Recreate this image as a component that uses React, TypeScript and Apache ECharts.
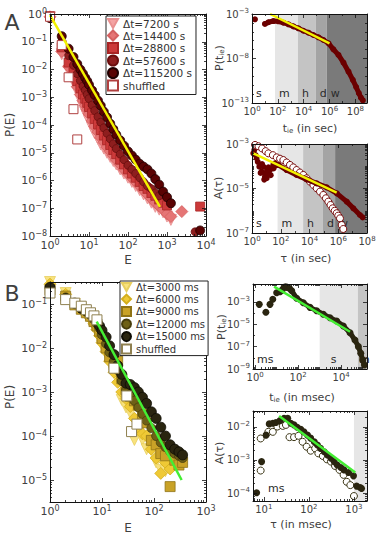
import { useEffect, useRef } from "react";
import * as echarts from "echarts";

const FONT = "DejaVu Sans";
const TXT = "#404040";
const L10 = Math.log10;

// ===== Panel A main: P(E) vs E (E real, P as log10) =====
const aE = [1, 2, 3, 4, 5, 6, 7, 8, 9, 10, 12, 14, 17, 20, 24, 29, 35, 42, 50, 63, 79, 100, 126, 158, 200, 251, 316, 398, 501, 631, 794, 1000, 1259];
const aE7200 = aE;
const aLogP7200 = [-0.12, -1.45, -2.05, -2.45, -2.8, -3.1, -3.35, -3.55, -3.7, -3.85, -4.1, -4.3, -4.5, -4.7, -4.85, -5.0, -5.15, -5.3, -5.42, -5.6, -5.75, -5.9, -6.05, -6.2, -6.35, -6.5, -6.65, -6.8, -6.95, -7.05, -7.15, -7.3, -7.42];
const aE14400 = [...aE, 2400];
const aLogP14400 = [-0.1, -1.35, -1.9, -2.3, -2.62, -2.9, -3.12, -3.3, -3.45, -3.6, -3.85, -4.05, -4.25, -4.45, -4.62, -4.8, -4.95, -5.1, -5.25, -5.42, -5.6, -5.75, -5.9, -6.05, -6.2, -6.35, -6.5, -6.65, -6.8, -6.92, -7.05, -7.2, -7.3, -7.12];
const aE28800 = [...aE.slice(0, 32), 7080];
const aLogP28800 = [-0.08, -1.2, -1.75, -2.1, -2.42, -2.68, -2.9, -3.05, -3.2, -3.35, -3.58, -3.78, -3.98, -4.18, -4.38, -4.55, -4.72, -4.9, -5.05, -5.25, -5.42, -5.6, -5.75, -5.9, -6.05, -6.2, -6.3, -6.45, -6.55, -6.68, -6.8, -6.9, -6.94];
const aE57600 = [...aE.slice(0, 30), 5250];
const aLogP57600 = [-0.1, -1.0, -1.5, -1.85, -2.15, -2.4, -2.6, -2.75, -2.9, -3.05, -3.28, -3.48, -3.7, -3.9, -4.1, -4.3, -4.5, -4.68, -4.85, -5.05, -5.25, -5.45, -5.6, -5.75, -5.9, -6.05, -6.2, -6.3, -6.45, -6.55, -7.85];
const aE115200 = [...aE, 7080];
const aLogP115200 = [-0.15, -0.8, -1.25, -1.55, -1.8, -2.0, -2.15, -2.3, -2.42, -2.55, -2.75, -2.92, -3.12, -3.3, -3.52, -3.72, -3.95, -4.15, -4.35, -4.55, -4.75, -4.95, -5.1, -5.25, -5.4, -5.5, -5.6, -5.75, -5.95, -6.15, -6.4, -6.6, -6.82, -7.8];
const aEShuf = [1, 2, 3, 4, 5];
const aLogPShuf = [-0.1, -1.12, -2.28, -3.43, -4.52];
const aFitE = [1, 660];
const aFitLogP = [-0.04, -6.95];

// ===== Panel A top right: P(t_ie), log10 t (s) and log10 P =====
const aTieLogT = [0.23, 1.0, 1.27, 1.65, 2.04, 2.43, 2.82, 3.2, 3.59, 3.98, 4.37, 4.75, 5.14, 5.53, 5.92, 6.3, 6.69, 7.08, 7.47, 7.8, 8.06, 8.27, 8.43, 8.58];
const aTieLogP = [-3.6, -4.12, -3.93, -3.79, -3.82, -3.98, -4.16, -4.39, -4.61, -4.88, -5.1, -5.36, -5.62, -5.92, -6.29, -6.97, -7.6, -8.47, -9.48, -10.4, -11.2, -11.9, -12.4, -12.7];
const aTieFitLogT = [1.4, 6.0];
const aTieFitLogP = [-3.0, -6.3];

// ===== Panel A bottom right: A(tau) =====
const aBlobLogT = [0.09, 0.16, 0.25, 0.32, 0.4, 0.51, 0.6, 0.67, 0.7, 0.79, 0.85, 0.9, 0.95, 1.02, 1.05, 1.14, 1.14, 1.25, 1.3, 1.37, 1.48, 1.5, 1.6, 1.7];
const aBlobLogA = [-3.42, -3.27, -3.5, -3.64, -3.8, -4.02, -4.3, -4.24, -3.9, -4.02, -4.6, -4.47, -4.3, -4.54, -4.15, -4.32, -4.05, -4.17, -4.4, -4.09, -3.94, -4.1, -3.87, -3.95];
const aAcfLogT = [1.83, 2.41, 3.1, 3.8, 4.5, 5.2, 5.9, 6.59, 7.05, 7.51, 7.7];
const aAcfLogA = [-3.94, -4.17, -4.39, -4.59, -4.77, -4.95, -5.22, -5.59, -5.89, -6.19, -6.3];
const aShufLogT = [0.21, 0.45, 0.7, 0.95, 1.14, 1.45, 1.72, 1.95, 2.18, 2.41, 2.64, 2.87, 3.1, 3.33, 3.57, 3.8, 4.03, 4.27, 4.5, 4.73, 4.96, 5.14, 5.31, 5.46, 5.61, 5.75, 5.89, 6.0, 6.12, 6.24, 6.35];
const aShufLogA = [-3.04, -3.1, -3.2, -3.32, -3.42, -3.5, -3.6, -3.66, -3.72, -3.83, -3.94, -4.05, -4.17, -4.28, -4.39, -4.54, -4.69, -4.84, -4.99, -5.14, -5.29, -5.44, -5.59, -5.74, -5.89, -6.0, -6.11, -6.22, -6.34, -6.64, -6.82];
const aAcfFitLogT = [0.09, 5.89];
const aAcfFitLogA = [-3.42, -5.19];
const aBandSec = [60, 3600, 86400, 604800];
const aBandNames = ["s", "m", "h", "d", "w"];

// ===== Panel B main =====
const bE = [1, 2, 3, 4, 5, 6, 7, 8, 9, 10, 12, 14, 17, 20, 24, 29, 35, 42, 50, 60, 72, 89, 110, 135, 166, 204, 251, 302, 355];
const bE3000 = bE.slice(0, 25);
const bLogP3000 = [-0.5, -0.75, -1.0, -1.15, -1.25, -1.38, -1.5, -1.65, -1.8, -1.95, -2.05, -2.3, -2.55, -2.73, -3.18, -3.35, -3.48, -4.09, -3.9, -4.09, -4.3, -4.32, -4.6, -4.77, -4.8];
const bE6000 = bE.slice(0, 26);
const bLogP6000 = [-0.55, -0.78, -1.0, -1.12, -1.22, -1.32, -1.45, -1.58, -1.72, -1.88, -2.08, -2.3, -2.55, -2.78, -3.0, -3.15, -3.33, -3.6, -3.8, -3.95, -4.0, -4.3, -4.5, -4.85, -4.6, -4.75];
const bE9000 = bE;
const bLogP9000 = [-0.68, -0.82, -1.02, -1.12, -1.2, -1.28, -1.4, -1.5, -1.62, -1.78, -2.0, -2.2, -2.4, -2.3, -2.7, -2.95, -3.1, -3.2, -3.3, -3.5, -3.7, -4.1, -4.2, -4.4, -4.45, -5.15, -4.55, -4.66, -4.6];
const bE12000 = bE;
const bLogP12000 = [-0.65, -0.85, -1.0, -1.1, -1.18, -1.25, -1.35, -1.45, -1.55, -1.7, -1.9, -2.1, -2.3, -2.5, -2.75, -2.95, -3.05, -3.2, -3.35, -3.5, -3.65, -3.82, -4.0, -4.15, -4.25, -4.35, -4.4, -4.45, -4.5];
const bE15000 = bE;
const bLogP15000 = [-0.62, -0.88, -0.98, -1.1, -1.15, -1.22, -1.3, -1.38, -1.5, -1.6, -1.75, -1.95, -2.15, -2.4, -2.6, -2.8, -2.83, -2.9, -3.0, -3.12, -3.26, -3.45, -3.6, -3.8, -4.0, -4.2, -4.3, -4.36, -4.43];
const bEShuf = [1, 2, 3, 4, 5, 6, 7, 8, 17, 30, 37, 47];
const bLogPShuf = [-0.75, -0.9, -0.98, -1.05, -1.13, -1.2, -1.27, -1.36, -2.46, -3.09, -3.9, -3.73];
const bFitE = [7.9, 340];
const bFitLogP = [-1.4, -5.0];

// ===== Panel B top right: P(t_ie) (ms) =====
const bTieLogT = [0.19, 0.5, 0.69, 0.82, 1.0, 1.16, 1.25, 1.34, 1.42, 1.5, 1.6, 1.7, 1.93, 2.24, 2.55, 2.86, 3.17, 3.48, 3.79, 4.1, 4.41, 4.64, 4.8, 4.91, 5.0, 5.08];
const bTieLogP = [-3.22, -3.93, -3.22, -2.77, -2.18, -2.09, -1.95, -1.7, -1.65, -1.7, -1.8, -2.0, -2.68, -3.07, -3.49, -3.79, -4.11, -4.41, -4.71, -5.16, -5.76, -6.41, -7.0, -7.6, -8.2, -8.65];
const bTieFitLogT = [0.88, 4.41];
const bTieFitLogP = [-1.64, -5.67];
const bBandMs = [1000, 60000];
const bBandNames = ["ms", "s", "m"];

// ===== Panel B bottom right: A(tau) (ms) =====
const bAcfLogT = [0.84, 0.95, 1.05, 1.12, 1.2, 1.27, 1.36, 1.45, 1.53, 1.6, 1.67, 1.74, 1.82, 1.89, 1.97, 2.04, 2.12, 2.19, 2.26, 2.34, 2.41, 2.49, 2.56, 2.63, 2.71, 2.78, 2.88, 2.99, 3.06, 3.14, 3.17];
const bAcfLogA = [-3.99, -3.05, -2.25, -1.91, -1.89, -1.87, -1.81, -1.74, -1.74, -1.89, -1.94, -2.01, -2.07, -2.15, -2.25, -2.34, -2.45, -2.55, -2.65, -2.75, -2.85, -2.95, -3.05, -3.15, -3.23, -3.3, -3.38, -3.48, -3.79, -3.83, -3.86];
const bShufLogT = [0.93, 0.93, 1.1, 1.2, 1.3, 1.42, 1.49, 1.57, 1.67, 1.77, 1.86, 1.95, 2.04, 2.14, 2.21, 2.31, 2.4, 2.49, 2.58, 2.68, 2.77, 2.84, 2.92, 3.0];
const bShufLogA = [-3.32, -2.35, -2.15, -2.15, -1.99, -1.97, -1.94, -2.31, -2.31, -2.27, -2.45, -2.6, -2.72, -2.65, -2.8, -2.88, -2.98, -3.05, -3.18, -3.3, -3.45, -3.66, -3.76, -4.09];
const bAcfFitLogT = [1.34, 3.03];
const bAcfFitLogA = [-1.67, -3.38];
const bAcfBandMs = [1000];
const bAcfBandNames = ["ms", ""];

// ===== Tick labels (log10 exponents) =====
const panels = [
  { l: 50, t: 14, w: 156, h: 222, x: [0, 4], y: [-8, 0], xt: [0, 1, 2, 3, 4], yt: [0, -1, -2, -3, -4, -5, -6, -7, -8], xm: "k", ym: "k", fs: 11 },
  { l: 252, t: 14, w: 115, h: 89, x: [0, 8.9], y: [-13, -3], xt: [0, 2, 4, 6, 8], yt: [-13, -8, -3], xm: "d", ym: "d", fs: 10 },
  { l: 252, t: 144, w: 115, h: 89, x: [0, 8], y: [-7, -3], xt: [0, 2, 4, 6, 8], yt: [-7, -5, -3], xm: "d", ym: "k", fs: 10 },
  { l: 50, t: 282, w: 156, h: 220, x: [0, 3], y: [-5.5, -0.5], xt: [0, 1, 2, 3], yt: [-1, -2, -3, -4, -5], xm: "k", ym: "k", fs: 11 },
  { l: 253, t: 284, w: 114, h: 85, x: [-0.1, 5.2], y: [-9, -1.4], xt: [0, 2, 4], yt: [-9, -7, -5, -3], xm: "k", ym: "d", fs: 10 },
  { l: 253, t: 411, w: 114, h: 90, x: [0.76, 3.29], y: [-4.24, -1.52], xt: [1, 2, 3], yt: [-4, -3, -2], xm: "k", ym: "k", fs: 10 },
];

const TRI = "path://M0,0L10,0L5,9Z";
const pt = (xs: number[], ys: number[]) => xs.map((x, i) => [L10(x), ys[i]]);
const pl = (xs: number[], ys: number[]) => xs.map((x, i) => [x, ys[i]]);

function minors(r: number[], majors: number[], kind: string) {
  const out: number[] = [];
  for (let n = Math.floor(r[0]) - 1; n <= Math.ceil(r[1]); n++) {
    if (n > r[0] + 1e-6 && n < r[1] - 1e-6 && !majors.includes(n)) out.push(n);
    if (kind === "k") {
      for (let k = 2; k <= 9; k++) {
        const v = n + L10(k);
        if (v > r[0] + 1e-6 && v < r[1] - 1e-6) out.push(v);
      }
    }
  }
  return out;
}

function fmt(v: number) {
  const n = Math.round(v);
  return `{b|10}{s|${n < 0 ? "\u2212" + -n : n}}`;
}
function rich(fs: number) {
  return {
    b: { fontSize: fs, fontFamily: FONT, color: TXT },
    s: { fontSize: fs - 3, fontFamily: FONT, color: TXT, padding: [0, 0, Math.round(fs * 0.55), 0] },
  };
}

function buildAxes() {
  const xAxis: any[] = [];
  const yAxis: any[] = [];
  const line = { show: true, onZero: false, lineStyle: { color: "#111", width: 1 } };
  const noLine = { show: false, onZero: false };
  const tick = (vals: number[], len: number) => ({ show: true, inside: true, length: len, customValues: vals, lineStyle: { color: "#111", width: 0.8 } });
  panels.forEach((p, gi) => {
    const base = { gridIndex: gi, type: "value", splitLine: { show: false }, z: 10, silent: true };
    const xm = minors(p.x, p.xt, p.xm);
    const ym = minors(p.y, p.yt, p.ym);
    const xb = { ...base, min: p.x[0], max: p.x[1] };
    const yb = { ...base, min: p.y[0], max: p.y[1] };
    xAxis.push(
      { ...xb, position: "bottom", axisLine: line, axisTick: tick(p.xt, 4), axisLabel: { show: true, customValues: p.xt, formatter: fmt, rich: rich(p.fs), margin: 2 } },
      { ...xb, position: "bottom", axisLine: noLine, axisTick: tick(xm, 2), axisLabel: { show: false } },
      { ...xb, position: "top", axisLine: line, axisTick: tick(p.xt, 4), axisLabel: { show: false } },
      { ...xb, position: "top", axisLine: noLine, axisTick: tick(xm, 2), axisLabel: { show: false } }
    );
    yAxis.push(
      { ...yb, position: "left", axisLine: line, axisTick: tick(p.yt, 4), axisLabel: { show: true, customValues: p.yt, formatter: fmt, rich: rich(p.fs), margin: 3 } },
      { ...yb, position: "left", axisLine: noLine, axisTick: tick(ym, 2), axisLabel: { show: false } },
      { ...yb, position: "right", axisLine: line, axisTick: tick(p.yt, 4), axisLabel: { show: false } },
      { ...yb, position: "right", axisLine: noLine, axisTick: tick(ym, 2), axisLabel: { show: false } }
    );
  });
  return { xAxis, yAxis };
}

function scat(gi: number, name: string, data: number[][], symbol: string, size: number, fill: string, stroke: string, bw = 0.8) {
  return {
    type: "scatter", name, xAxisIndex: 4 * gi, yAxisIndex: 4 * gi, data, symbol, symbolSize: size,
    silent: true, z: 2, itemStyle: { color: fill, borderColor: stroke, borderWidth: bw, opacity: 1 },
  };
}
function fitLine(gi: number, data: number[][], color: string) {
  return {
    type: "line", name: "fit" + gi, xAxisIndex: 4 * gi, yAxisIndex: 4 * gi, data, symbol: "none", z: 6, silent: true,
    lineStyle: { color, width: 2.5 },
  };
}
function curve(gi: number, data: number[][], color: string, sym: number, w: number) {
  return {
    type: "line", name: "curve" + gi, xAxisIndex: 4 * gi, yAxisIndex: 4 * gi, data, symbol: "circle", symbolSize: sym, showSymbol: true,
    z: 3, silent: true, lineStyle: { color, width: w }, itemStyle: { color, borderColor: color, borderWidth: 0 },
  };
}
function bands(gi: number, bounds: number[], names: string[], colors: string[], offsets: number[][]) {
  const p = panels[gi];
  const edges = [p.x[0], ...bounds.map(L10), p.x[1]];
  return {
    type: "scatter", name: "bands" + gi, xAxisIndex: 4 * gi, yAxisIndex: 4 * gi, data: [[p.x[0], p.y[0]]], symbolSize: 0, z: 1, silent: true,
    markArea: {
      silent: true,
      label: { show: true, position: "insideBottomLeft", distance: 4, color: "#2a2a2a", fontSize: 11, fontFamily: FONT },
      data: names.map((n, i) => [
        { name: n, xAxis: edges[i], itemStyle: { color: colors[i] }, label: { offset: offsets[i] } },
        { xAxis: edges[i + 1] },
      ]),
    },
  };
}

function txt(x: number, y: number, text: string, fs: number, rot = 0) {
  return {
    type: "text", x, y, rotation: rot, silent: true, z: 20,
    style: {
      text, fill: TXT, fontSize: fs, fontFamily: FONT, align: "center", verticalAlign: "middle",
      rich: {
        n: { fontSize: fs, fontFamily: FONT, fill: TXT },
        sub: { fontSize: fs - 4, fontFamily: FONT, fill: TXT, padding: [6, 0, 0, 0] },
      },
    },
  };
}

function buildOption() {
  const { xAxis, yAxis } = buildAxes();
  const grid = panels.map((p) => ({ left: p.l, top: p.t, width: p.w, height: p.h, show: false }));
  const namesA = ["Δt=7200 s", "Δt=14400 s", "Δt=28800 s", "Δt=57600 s", "Δt=115200 s", "shuffled"];
  const namesB = ["Δt=3000 ms", "Δt=6000 ms", "Δt=9000 ms", "Δt=12000 ms", "Δt=15000 ms", "shuffled "];
  const aBandColors = ["rgba(0,0,0,0)", "#e6e6e6", "#c4c4c4", "#a4a4a4", "#7a7a7a"];
  const series: any[] = [
    // A main
    scat(0, namesA[0], pt(aE7200, aLogP7200), TRI, 11, "#f4a3a3", "#e99090"),
    scat(0, namesA[1], pt(aE14400, aLogP14400), "diamond", 12, "#e57575", "#d46060"),
    scat(0, namesA[2], pt(aE28800, aLogP28800), "rect", 9, "#cc3a3a", "#a82424"),
    scat(0, namesA[3], pt(aE57600, aLogP57600), "circle", 8, "#8e1e1e", "#6a0e0e"),
    scat(0, namesA[4], pt(aE115200, aLogP115200), "circle", 9, "#5a0303", "#200000"),
    scat(0, namesA[5], pt(aEShuf, aLogPShuf), "rect", 9, "#ffffff", "#b04040", 1),
    fitLine(0, pt(aFitE, aFitLogP), "#f2f200"),
    // A top right
    bands(1, aBandSec, aBandNames, aBandColors, [[0, 0], [0, 0], [0, 0], [0, 0], [0, 0]]),
    scat(1, "tieA0", pl(aTieLogT.slice(0, 1), aTieLogP.slice(0, 1)), "circle", 6, "#6b0000", "#6b0000", 0),
    curve(1, pl(aTieLogT.slice(1), aTieLogP.slice(1)), "#6b0000", 6, 5),
    fitLine(1, pl(aTieFitLogT, aTieFitLogP), "#f2f200"),
    // A bottom right
    bands(2, aBandSec, aBandNames, aBandColors, [[0, 0], [0, 0], [0, 0], [0, 0], [0, 0]]),
    scat(2, "blobA", pl(aBlobLogT, aBlobLogA), "circle", 6, "#6b0000", "#6b0000", 0),
    curve(2, pl(aAcfLogT, aAcfLogA), "#6b0000", 6, 5),
    scat(2, "shufA", pl(aShufLogT, aShufLogA), "circle", 7, "#ffffff", "#7a1010", 1),
    fitLine(2, pl(aAcfFitLogT, aAcfFitLogA), "#f2f200"),
    // B main
    scat(3, namesB[0], pt(bE3000, bLogP3000), TRI, 11, "#f8e27e", "#e8cf60"),
    scat(3, namesB[1], pt(bE6000, bLogP6000), "diamond", 12, "#efc935", "#d4ae1c"),
    scat(3, namesB[2], pt(bE9000, bLogP9000), "rect", 10, "#c9a227", "#8f7316"),
    scat(3, namesB[3], pt(bE12000, bLogP12000), "circle", 9, "#6e6016", "#473d0c"),
    scat(3, namesB[4], pt(bE15000, bLogP15000), "circle", 10, "#2a2510", "#0d0b03"),
    scat(3, namesB[5], pt(bEShuf, bLogPShuf), "rect", 10, "#ffffff", "#8f8050", 1),
    fitLine(3, pt(bFitE, bFitLogP), "#44ee33"),
    // B top right
    bands(4, bBandMs, bBandNames, ["rgba(0,0,0,0)", "#e6e6e6", "#c4c4c4"], [[0, 0], [7, 0], [-3, 0]]),
    scat(4, "tieB0", pl(bTieLogT.slice(0, 11), bTieLogP.slice(0, 11)), "circle", 7, "#2a2510", "#2a2510", 0),
    curve(4, pl(bTieLogT.slice(11), bTieLogP.slice(11)), "#2a2510", 7, 5),
    fitLine(4, pl(bTieFitLogT, bTieFitLogP), "#44ee33"),
    // B bottom right
    bands(5, bAcfBandMs, bAcfBandNames, ["rgba(0,0,0,0)", "#e6e6e6"], [[11, -3], [0, 0]]),
    scat(5, "shufB", pl(bShufLogT, bShufLogA), "circle", 7, "#ffffff", "#3b3515", 1),
    scat(5, "acfB", pl(bAcfLogT, bAcfLogA), "circle", 7, "#2a2510", "#2a2510", 0),
    fitLine(5, pl(bAcfFitLogT, bAcfFitLogA), "#44ee33"),
  ];
  const legendCommon = {
    orient: "vertical", selectedMode: false, backgroundColor: "#ffffff", borderColor: "#222", borderWidth: 1,
    borderRadius: 0, z: 20, textStyle: { fontFamily: FONT, color: "#333" },
  };
  const legend = [
    { ...legendCommon, left: 106, top: 16, data: namesA, itemWidth: 10, itemHeight: 10, itemGap: 0.5, padding: [2, 4, 3, 1], textStyle: { fontFamily: FONT, color: "#333", fontSize: 10.5, lineHeight: 10 } },
    { ...legendCommon, left: 120, top: 281, data: namesB, itemWidth: 9, itemHeight: 9, itemGap: 1.5, padding: [1, 3, 1, 1], textStyle: { fontFamily: FONT, color: "#333", fontSize: 10, lineHeight: 9 } },
  ];
  const graphic = [
    txt(12, 22, "A", 22),
    txt(12, 293, "B", 22),
    txt(10, 125, "P(E)", 12, Math.PI / 2),
    txt(128, 260, "E", 12),
    txt(219, 58, "{n|P(t}{sub|ie}{n|)}", 11, Math.PI / 2),
    txt(310, 128, "{n|t}{sub|ie}{n| (in sec)}", 11),
    txt(218, 188, "A(τ)", 11, Math.PI / 2),
    txt(306, 258, "τ (in sec)", 11),
    txt(10, 397, "P(E)", 12, Math.PI / 2),
    txt(128, 528, "E", 12),
    txt(221, 327, "{n|P(t}{sub|ie}{n|)}", 11, Math.PI / 2),
    txt(302, 397, "{n|t}{sub|ie}{n| (in msec)}", 11),
    txt(219, 453, "A(τ)", 11, Math.PI / 2),
    txt(301, 524, "τ (in msec)", 11),
  ];
  return { animation: false, backgroundColor: "#ffffff", grid, xAxis, yAxis, series, legend, graphic, textStyle: { fontFamily: FONT } };
}

export default function App() {
  const ref = useRef<HTMLDivElement>(null);
  useEffect(() => {
    const chart = echarts.init(ref.current!, null, { renderer: "svg" });
    chart.setOption(buildOption() as any);
    return () => chart.dispose();
  }, []);
  return <div ref={ref} style={{ position: "absolute", left: 0, top: 0, width: 382, height: 541 }} />;
}
